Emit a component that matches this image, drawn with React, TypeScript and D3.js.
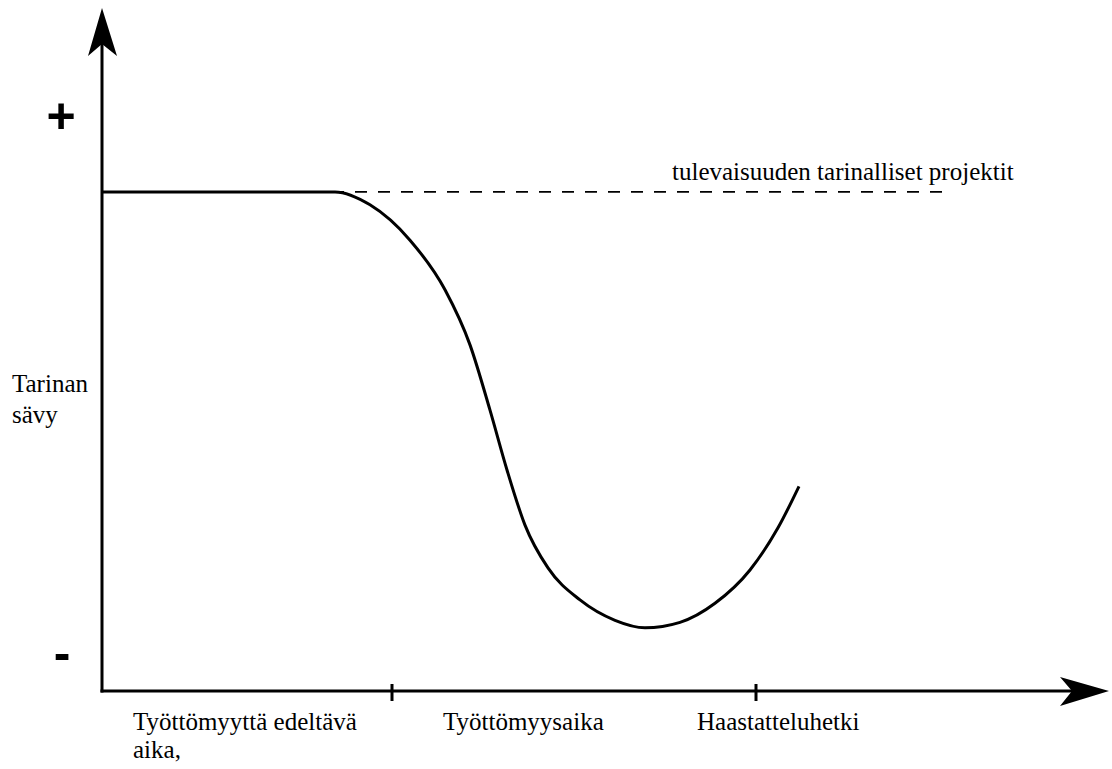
import { useRef, useEffect } from 'react';
import * as d3 from 'd3';

// time along the story (0..100) and tone of the story (0..100)
const storyTime = [0, 14.8, 23.3, 26.8, 30.8, 34.3, 36.8, 38.8, 40.5, 42.3, 44.6, 47.8, 51.3, 54.3, 57.8, 61.3, 64.8, 67.6, 69.7];
const storyTone = [73.4, 73.4, 73.4, 71.5, 66.3, 59.0, 50.9, 41.3, 32.5, 24.4, 18.1, 13.4, 10.4, 9.3, 10.1, 12.9, 17.8, 24.0, 30.1];

const futureLevel = 73.4;
const futureEnd = 84.3;
const futureLabel = 'tulevaisuuden tarinalliset projektit';

const phaseTicks = [29, 65.4];
const phaseLabels = [
  { at: 3.1, lines: ['Työttömyyttä edeltävä', 'aika,'] },
  { at: 34.1, lines: ['Työttömyysaika'] },
  { at: 59.5, lines: ['Haastatteluhetki'] },
];

const yTitle = ['Tarinan', 'sävy'];

export default function App() {
  const svgRef = useRef(null);

  function renderChart() {
    const width = 1112;
    const height = 769;
    const svg = d3.select(svgRef.current);
    svg.selectAll('*').remove();
    svg.attr('width', width).attr('height', height);

    const x = d3.scaleLinear().domain([0, 100]).range([102, 1102]);
    const y = d3.scaleLinear().domain([0, 100]).range([691, 11]);

    const x0 = x(0);
    const y0 = y(0);
    const serif = "'Times New Roman', Times, 'Liberation Serif', 'DejaVu Serif', serif";

    // axes
    svg.append('line')
      .attr('x1', x0).attr('y1', y0 + 1.5)
      .attr('x2', x0).attr('y2', 40)
      .attr('stroke', '#000').attr('stroke-width', 3);
    svg.append('path')
      .attr('d', `M${x0},8 L${x0 + 15},56 L${x0},44 L${x0 - 14},56 Z`)
      .attr('fill', '#000');

    svg.append('line')
      .attr('x1', x0 - 1.5).attr('y1', y0)
      .attr('x2', 1075).attr('y2', y0)
      .attr('stroke', '#000').attr('stroke-width', 3);
    svg.append('path')
      .attr('d', `M1109,${y0} L1060,${y0 - 14} L1072,${y0} L1060,${y0 + 15} Z`)
      .attr('fill', '#000');

    // phase ticks
    svg.selectAll('line.tick')
      .data(phaseTicks)
      .join('line')
      .attr('class', 'tick')
      .attr('x1', (d) => x(d)).attr('x2', (d) => x(d))
      .attr('y1', y0 - 7).attr('y2', y0 + 10)
      .attr('stroke', '#000').attr('stroke-width', 3);

    // + and -
    svg.append('text')
      .text('+')
      .attr('x', 61).attr('y', y(84.5) + 17)
      .attr('text-anchor', 'middle')
      .style('font-family', "'Liberation Sans', Arial, sans-serif")
      .style('font-weight', 'bold')
      .style('font-size', '50px');
    svg.append('text')
      .text('-')
      .attr('x', 62).attr('y', y(5) + 13)
      .attr('text-anchor', 'middle')
      .style('font-family', "'Liberation Sans', Arial, sans-serif")
      .style('font-weight', 'bold')
      .style('font-size', '50px');

    // future projects, dashed
    svg.append('line')
      .attr('x1', x0).attr('x2', x(futureEnd))
      .attr('y1', y(futureLevel)).attr('y2', y(futureLevel))
      .attr('stroke', '#000').attr('stroke-width', 1.6)
      .attr('stroke-dasharray', '12,11');
    svg.append('text')
      .text(futureLabel)
      .attr('x', 672).attr('y', 180)
      .style('font-family', serif)
      .style('font-size', '25px');

    // the story line
    const line = d3.line()
      .x((d) => x(d[0]))
      .y((d) => y(d[1]))
      .curve(d3.curveMonotoneX);
    svg.append('path')
      .datum(storyTime.map((t, i) => [t, storyTone[i]]))
      .attr('d', line)
      .attr('fill', 'none')
      .attr('stroke', '#000')
      .attr('stroke-width', 3);

    // y title
    svg.append('text')
      .style('font-family', serif)
      .style('font-size', '25px')
      .selectAll('tspan')
      .data(yTitle)
      .join('tspan')
      .attr('x', 12)
      .attr('y', (d, i) => 392 + i * 31)
      .text((d) => d);

    // phase labels
    phaseLabels.forEach((p) => {
      svg.append('text')
        .style('font-family', serif)
        .style('font-size', '25px')
        .selectAll('tspan')
        .data(p.lines)
        .join('tspan')
        .attr('x', x(p.at))
        .attr('y', (d, i) => 730 + i * 28)
        .text((d) => d);
    });
  }

  useEffect(() => {
    renderChart();
  }, []);

  return (
    <div style={{ position: 'absolute', left: 0, top: 0 }}>
      <svg ref={svgRef} style={{ display: 'block', background: '#fff' }} />
    </div>
  );
}
